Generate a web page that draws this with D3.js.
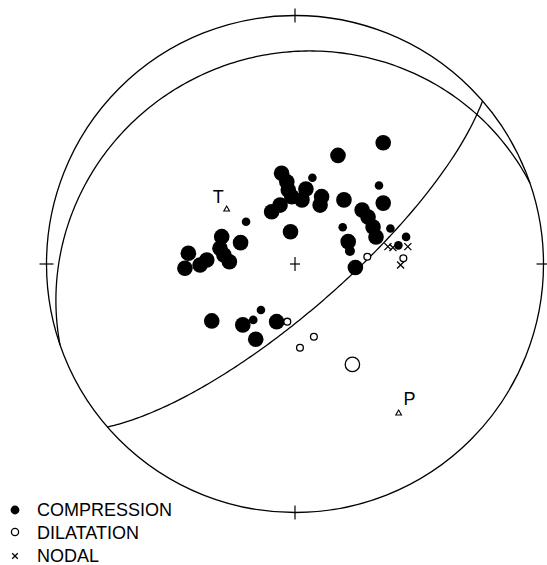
<!DOCTYPE html>
<html>
<head>
<meta charset="utf-8">
<script src="https://cdn.jsdelivr.net/npm/d3@7"></script>
<style>
  body { margin: 0; background: #fff; }
  svg { display: block; }
  text { font-family: "Liberation Sans", Arial, sans-serif; fill: #000; }
</style>
</head>
<body>
<svg id="chart" width="547" height="565"></svg>
<script>
// polarities, projected positions (east, north) on the unit net
var compX = [0.355, 0.173, 0.338, 0.197, 0.355, 0.270, 0.294, 0.314, 0.326, 0.192, 0.384, 0.214, 0.221, 0.243, 0.447, 0.416,
             -0.054, -0.033, -0.027, -0.013, -0.060, -0.094, 0.044, 0.028, 0.070, 0.107, 0.101, -0.018,
             -0.197, -0.295, -0.219, -0.302, -0.264, -0.286, -0.429, -0.355, -0.382, -0.443,
             -0.335, -0.210, -0.168, -0.137, -0.158, -0.074];
var compY = [0.488, 0.437, 0.316, 0.258, 0.245, 0.217, 0.189, 0.149, 0.109, 0.148, 0.143, 0.090, 0.052, -0.014, 0.109, 0.075,
             0.365, 0.331, 0.298, 0.271, 0.237, 0.210, 0.302, 0.258, 0.347, 0.271, 0.237, 0.130,
             0.170, 0.110, 0.086, 0.063, 0.009, 0.036, 0.043, 0.016, -0.004, -0.017,
             -0.229, -0.245, -0.225, -0.185, -0.303, -0.232];
var compSize = ["L", "L", "S", "L", "L", "L", "L", "L", "L", "S", "S", "L", "M", "L", "S", "S",
                "L", "L", "L", "L", "L", "L", "L", "L", "S", "L", "L", "L",
                "S", "L", "L", "L", "L", "L", "L", "L", "L", "L",
                "L", "L", "S", "S", "L", "L"];

var dilX = [0.291, 0.436, -0.031, 0.020, 0.076, 0.231];
var dilY = [0.029, 0.023, -0.232, -0.337, -0.293, -0.404];
var dilSize = ["S", "S", "S", "S", "S", "L"];

var nodX = [0.374, 0.394, 0.454, 0.425];
var nodY = [0.070, 0.066, 0.070, -0.004];

// nodal planes: strike (deg, dip to the right), dip (deg)
var planeStrike = [49, 251];
var planeDip = [75, 16.4];

// stress axes
var axisName = ["T", "P"];
var axisX = [-0.275, 0.417];
var axisY = [0.220, -0.601];

var legendLabels = ["COMPRESSION", "DILATATION", "NODAL"];

var svg = d3.select("#chart");

var R = 248.5, cx = 295, cy = 264;
var x = d3.scaleLinear().domain([-1, 1]).range([cx - R, cx + R]);
var y = d3.scaleLinear().domain([-1, 1]).range([cy + R, cy - R]);
var rSize = d3.scaleOrdinal().domain(["S", "M", "L"]).range([4.3, 5, 7.8]);
var rOpen = d3.scaleOrdinal().domain(["S", "L"]).range([3.4, 7.2]);

var rad = Math.PI / 180;

// lower hemisphere equal-area projection of a great circle
function planePoints(strike, dip) {
  var s = [Math.sin(strike * rad), Math.cos(strike * rad)];
  var d = [Math.sin((strike + 90) * rad), Math.cos((strike + 90) * rad)];
  return d3.range(0, 180.5, 1).map(function (t) {
    var c = Math.cos(t * rad), sn = Math.sin(t * rad);
    var hx = c * s[0] + sn * Math.cos(dip * rad) * d[0];
    var hy = c * s[1] + sn * Math.cos(dip * rad) * d[1];
    var p = Math.asin(Math.min(1, sn * Math.sin(dip * rad)));
    var h = Math.sqrt(hx * hx + hy * hy) || 1;
    var r = Math.SQRT2 * Math.sin((Math.PI / 2 - p) / 2);
    return [hx / h * r, hy / h * r];
  });
}

var line = d3.line().x(function (p) { return x(p[0]); }).y(function (p) { return y(p[1]); });

// primitive circle
svg.append("ellipse")
  .attr("cx", x(0)).attr("cy", y(0))
  .attr("rx", x(1) - x(0)).attr("ry", y(-1) - y(0))
  .attr("fill", "none").attr("stroke", "#000").attr("stroke-width", 1.3);

// N E S W ticks and centre cross
var ticks = [[0, 1, 0, 7], [1, 0, 7, 0], [0, -1, 0, 7], [-1, 0, 7, 0]];
ticks.forEach(function (t) {
  if (t[2]) svg.append("line").attr("x1", x(t[0]) - t[2]).attr("x2", x(t[0]) + t[2])
    .attr("y1", y(t[1])).attr("y2", y(t[1])).attr("stroke", "#000").attr("stroke-width", 1.2);
  if (t[3]) svg.append("line").attr("x1", x(t[0])).attr("x2", x(t[0]))
    .attr("y1", y(t[1]) - t[3]).attr("y2", y(t[1]) + t[3]).attr("stroke", "#000").attr("stroke-width", 1.2);
});
svg.append("line").attr("x1", x(0) - 5).attr("x2", x(0) + 5).attr("y1", y(0)).attr("y2", y(0))
  .attr("stroke", "#000").attr("stroke-width", 1.2);
svg.append("line").attr("x1", x(0)).attr("x2", x(0)).attr("y1", y(0) - 7).attr("y2", y(0) + 7)
  .attr("stroke", "#000").attr("stroke-width", 1.2);

// nodal planes
planeStrike.forEach(function (st, i) {
  svg.append("path")
    .attr("d", line(planePoints(st, planeDip[i])))
    .attr("fill", "none").attr("stroke", "#000").attr("stroke-width", 1.3);
});

// compressions
svg.append("g").selectAll("circle")
  .data(d3.range(compX.length))
  .enter().append("circle")
  .attr("cx", function (i) { return x(compX[i]); })
  .attr("cy", function (i) { return y(compY[i]); })
  .attr("r", function (i) { return rSize(compSize[i]); })
  .attr("fill", "#000");

// dilatations
svg.append("g").selectAll("circle")
  .data(d3.range(dilX.length))
  .enter().append("circle")
  .attr("cx", function (i) { return x(dilX[i]); })
  .attr("cy", function (i) { return y(dilY[i]); })
  .attr("r", function (i) { return rOpen(dilSize[i]); })
  .attr("fill", "#fff").attr("stroke", "#000").attr("stroke-width", 1.3);

// nodal readings
var cross = d3.symbol().type(d3.symbolTimes).size(34);
svg.append("g").selectAll("path")
  .data(d3.range(nodX.length))
  .enter().append("path")
  .attr("d", cross)
  .attr("transform", function (i) { return "translate(" + x(nodX[i]) + "," + y(nodY[i]) + ")"; })
  .attr("fill", "none").attr("stroke", "#000").attr("stroke-width", 1.3);

// T and P axes
var tri = d3.symbol().type(d3.symbolTriangle).size(14);
axisName.forEach(function (nm, i) {
  svg.append("path").attr("d", tri)
    .attr("transform", "translate(" + x(axisX[i]) + "," + y(axisY[i]) + ")")
    .attr("fill", "#fff").attr("stroke", "#000").attr("stroke-width", 1.1);
  svg.append("text")
    .attr("x", x(axisX[i]) + (nm === "T" ? -8.5 : 11))
    .attr("y", y(axisY[i]) + (nm === "T" ? -6 : -8.5))
    .attr("text-anchor", "middle")
    .attr("font-size", 18)
    .text(nm);
});

// legend
var legY = [510, 532, 556];
var legText = [515.8, 538.5, 562];
var leg = svg.append("g");
leg.append("circle").attr("cx", 15).attr("cy", legY[0]).attr("r", 4.4).attr("fill", "#000");
leg.append("circle").attr("cx", 15).attr("cy", legY[1]).attr("r", 3.6)
  .attr("fill", "#fff").attr("stroke", "#000").attr("stroke-width", 1.3);
leg.append("path").attr("d", d3.symbol().type(d3.symbolTimes).size(22))
  .attr("transform", "translate(15," + legY[2] + ")")
  .attr("fill", "none").attr("stroke", "#000").attr("stroke-width", 1.3);
leg.selectAll("text").data(legendLabels).enter().append("text")
  .attr("x", 37)
  .attr("y", function (d, i) { return legText[i]; })
  .attr("font-size", 18)
  .text(function (d) { return d; });
</script>
</body>
</html>
